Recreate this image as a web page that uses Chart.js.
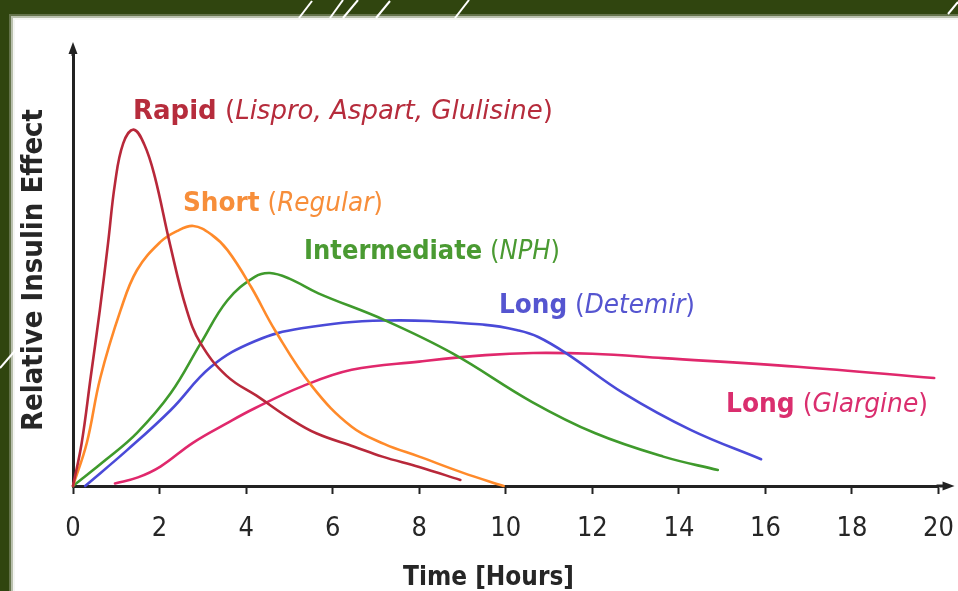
<!DOCTYPE html>
<html><head><meta charset="utf-8">
<script src="https://cdn.jsdelivr.net/npm/chart.js@4.4.1/dist/chart.umd.min.js"></script>
<style>
html,body{margin:0;padding:0;background:#30450f;overflow:hidden}
#wrap{position:relative;width:958px;height:591px}
</style></head><body>
<div id="wrap"><canvas id="c"></canvas></div>
<script>
// ---------- data ----------
const xTickValues = [0,2,4,6,8,10,12,14,16,18,20];
const xAxisTitle = 'Time [Hours]';
const yAxisTitle = 'Relative Insulin Effect';

const rapidX = [0,0.2,0.41,0.62,0.81,0.97,1.16,1.4,1.65,1.89,2.24,2.62,2.95,3.55,4.3,5.0,5.62,6.5,7.15,8.0,8.95];
const rapidY = [0,9.9,25.3,40.7,56.2,70,79.3,82.5,79,71.6,56,41,33,25.5,20.5,15.7,12.2,9.1,6.8,4.4,1.4];

const shortX = [0,0.32,0.63,1.1,1.48,2.02,2.4,2.78,3.2,3.57,4.12,4.67,5.53,6.44,7.2,8.0,9.0,9.95];
const shortY = [0,10,25,40.7,50,56.5,59,60.2,58.2,54.6,46,36,23,13.7,9.7,6.8,3.1,0];

const interX = [0,0.75,1.48,2.26,2.95,3.57,4.2,4.55,5.0,5.67,7.2,8.77,10.6,12.07,13.64,14.9];
const interY = [0,6,12.3,21.5,33,43,48.4,49.3,48,44.6,38.4,30.7,19.5,12.2,6.8,3.7];

const detemirX = [0.28,1.25,2.26,3.19,4.2,5.28,7.2,9.53,10.3,10.75,11.4,12.72,14.27,15.9];
const detemirY = [0,8.3,17.6,27.6,33.5,36.5,38.3,37.3,36,34.5,30.7,21.5,13,6.2];

const glargineX = [0.97,1.5,2.02,2.77,3.55,4.2,5.28,6.44,8.0,9.53,10.63,12.0,13.64,16.74,19.9];
const glargineY = [0.6,2,4.5,10,14.5,18,23,26.9,28.8,30.3,30.8,30.6,29.6,27.6,25];

const seriesLabels = [
  ['Rapid', 'Lispro, Aspart, Glulisine'],
  ['Short', 'Regular'],
  ['Intermediate', 'NPH'],
  ['Long', 'Detemir'],
  ['Long', 'Glargine']
];
const seriesColors = ['#b8283a','#ff8a2a','#3f9a2c','#4a4ad8','#e0286c'];
const labelColors  = ['#b62c3c','#f78e3a','#4a9a32','#5555d0','#da2e6e'];

// ---------- helpers ----------
function fontOK(name){
  const c=document.createElement('canvas').getContext('2d');
  const t='mmmmmmmmmmlliWWW0123456789';
  let r=false;
  for(const g of ['monospace','serif']){
    c.font='40px '+g; const a=c.measureText(t).width;
    c.font='40px "'+name+'", '+g; const b=c.measureText(t).width;
    if(Math.abs(a-b)>0.5) r=true;
  }
  return r;
}
const narrowCandidates=[['Liberation Sans Narrow',30],['DejaVu Sans Condensed',27],['Roboto Condensed',28]];
let tickFam='DejaVu Sans', tickSize=25;
for(const [n,s] of narrowCandidates){ if(fontOK(n)){ tickFam=n; tickSize=s; break; } }
const yTitleFam = fontOK('DejaVu Sans Condensed') ? 'DejaVu Sans Condensed' : tickFam;

const toPts=(xs,ys)=>xs.map((x,i)=>({x:x,y:ys[i]}));

// ---------- plugins ----------
const framePlugin={
  id:'frame',
  beforeDraw(chart){
    const ctx=chart.ctx, W=chart.width, H=chart.height;
    ctx.save();
    ctx.fillStyle='#30450f'; ctx.fillRect(0,0,W,H);
    ctx.fillStyle='rgba(255,255,255,0.25)'; ctx.fillRect(9,14,W,H);
    ctx.fillStyle='rgba(255,255,255,0.55)'; ctx.fillRect(11,16,W,H);
    ctx.fillStyle='rgba(255,255,255,0.85)'; ctx.fillRect(13,18,W,H);
    ctx.fillStyle='#ffffff'; ctx.fillRect(15,20,W,H);
    // decorative slashes
    ctx.strokeStyle='#ffffff'; ctx.lineWidth=2;
    const sl=[[299,18,312,1],[330,18,343,0],[343,18,358,0],[376,18,390,1],[455,18,469,0],[948,14,958,2],[0,368,26,338]];
    for(const s of sl){ctx.beginPath();ctx.moveTo(s[0],s[1]);ctx.lineTo(s[2],s[3]);ctx.stroke();}
    ctx.restore();
  }
};

const decorPlugin={
  id:'decor',
  afterDraw(chart){
    const ctx=chart.ctx, a=chart.chartArea;
    ctx.save();
    ctx.fillStyle='#222'; ctx.strokeStyle='#222'; ctx.lineWidth=3;
    // y axis extension + arrow
    ctx.beginPath(); ctx.moveTo(a.left,a.top+2); ctx.lineTo(a.left,a.top-2); ctx.stroke();
    ctx.beginPath(); ctx.moveTo(a.left,a.top-12); ctx.lineTo(a.left-4.5,a.top); ctx.lineTo(a.left+4.5,a.top); ctx.closePath(); ctx.fill();
    // x axis extension + arrow
    ctx.beginPath(); ctx.moveTo(a.right-2,a.bottom); ctx.lineTo(a.right+6,a.bottom); ctx.stroke();
    ctx.beginPath(); ctx.moveTo(a.right+16,a.bottom); ctx.lineTo(a.right+4,a.bottom-4.5); ctx.lineTo(a.right+4,a.bottom+4.5); ctx.closePath(); ctx.fill();

    // x axis title (scaled to match the reference width)
    drawParts(ctx,[['bold',xAxisTitle]],403,585,171,'#262626',27);

    // series labels
    const pos=[[133,119,420],[183,211,200],[304,259,256],[499,313,196],[726,412,202]];
    seriesLabels.forEach((lb,i)=>{
      drawParts(ctx,[['bold',lb[0]],['normal',' ('],['italic',lb[1]],['normal',')']],pos[i][0],pos[i][1],pos[i][2],labelColors[i],26);
    });
    ctx.restore();
  }
};
function fontFor(style,size){
  if(style==='bold') return 'bold '+size+'px "DejaVu Sans"';
  if(style==='italic') return 'italic '+size+'px "DejaVu Sans"';
  return size+'px "DejaVu Sans"';
}
function drawParts(ctx,parts,x,y,w,color,size){
  ctx.save();
  let total=0;
  for(const p of parts){ctx.font=fontFor(p[0],size); total+=ctx.measureText(p[1]).width;}
  const sx=w/total;
  ctx.translate(x,y); ctx.scale(sx,1);
  ctx.fillStyle=color; ctx.textBaseline='alphabetic'; ctx.textAlign='left';
  let cx=0;
  for(const p of parts){ctx.font=fontFor(p[0],size); ctx.fillText(p[1],cx,0); cx+=ctx.measureText(p[1]).width;}
  ctx.restore();
}

// ---------- chart ----------
const mk=(label,xs,ys,i)=>({label:label,data:toPts(xs,ys),borderColor:seriesColors[i],backgroundColor:seriesColors[i],
  borderWidth:2.6,pointRadius:0,fill:false,tension:0.4,clip:false,borderCapStyle:'round',borderJoinStyle:'round'});

new Chart(document.getElementById('c'),{
  type:'line',
  data:{datasets:[
    mk('Rapid',rapidX,rapidY,0),
    mk('Short',shortX,shortY,1),
    mk('Intermediate',interX,interY,2),
    mk('Long (Detemir)',detemirX,detemirY,3),
    mk('Long (Glargine)',glargineX,glargineY,4)
  ]},
  options:{
    responsive:true, maintainAspectRatio:false, animation:false, events:[],
    devicePixelRatio:1,
    layout:{padding:{left:14,top:54,right:18,bottom:0}},
    plugins:{legend:{display:false},tooltip:{enabled:false}},
    scales:{
      x:{type:'linear',min:0,max:20,
        afterBuildTicks:(s)=>{s.ticks=xTickValues.map(v=>({value:v}));},
        afterFit:(s)=>{s.height=105;},
        grid:{display:true,drawOnChartArea:false,drawTicks:true,tickLength:8,tickWidth:2,tickColor:'#222'},
        border:{display:true,color:'#222',width:3},
        ticks:{padding:4,color:'#262626',font:{family:tickFam,size:tickSize,lineHeight:2.3},maxRotation:0,autoSkip:false},
        title:{display:false}
      },
      y:{type:'linear',min:0,max:100,
        afterFit:(s)=>{s.width=59;},
        grid:{display:false},
        border:{display:true,color:'#222',width:3},
        ticks:{display:false},
        title:{display:true,text:yAxisTitle,color:'#262626',padding:{top:3,bottom:0},
          font:{family:yTitleFam,size:29,weight:'bold'}}
      }
    }
  },
  plugins:[framePlugin,decorPlugin]
});
</script>
</body></html>
